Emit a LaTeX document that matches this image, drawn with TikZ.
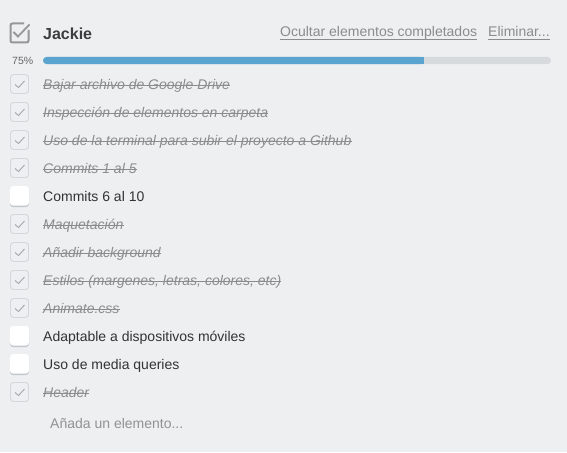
\documentclass[tikz,border=0pt]{standalone}
\usepackage{fontspec}
\setmainfont{Liberation Sans}
\definecolor{bg}{HTML}{EDEFF0}
\definecolor{txt}{HTML}{333333}
\definecolor{muted}{HTML}{8C8C8C}
\definecolor{boxline}{HTML}{D3D7DA}
\definecolor{tick}{HTML}{A3A8AC}
\definecolor{barblue}{HTML}{5BA4CF}
\definecolor{bargray}{HTML}{D6DADC}
\definecolor{shadow}{HTML}{C2C7CB}
\tikzset{
  itemtext/.style={anchor=base west, inner sep=0pt, font=\fontsize{14}{16}\selectfont},
  donetxt/.style={itemtext, text=muted, font=\fontsize{14}{16}\selectfont\itshape},
  todotxt/.style={itemtext, text=txt},
  linktxt/.style={anchor=base west, inner sep=0pt, text=muted, font=\fontsize{14}{16}\selectfont},
  strike/.style={draw=muted, line width=0.9pt},
  uline/.style={draw=muted, line width=0.8pt},
}
\begin{document}
\begin{tikzpicture}[x=1pt,y=-1pt]
\fill[bg] (0,0) rectangle (567,452);
\useasboundingbox (0,0) rectangle (567,452);

% header checkbox
\coordinate (hb) at (19.5,33);
\draw[muted!90, line width=2pt, rounded corners=2pt]
  (24,23.5) -- (10.5,23.5) -- (10.5,42.5) -- (28.5,42.5) -- (28.5,30);
\draw[muted!90, line width=1.8pt] (13.5,32) -- (18,36.5) -- (29.5,24.5);

\node[anchor=base west, inner sep=0pt, text=txt!95, font=\fontsize{16}{18}\selectfont\bfseries] (title) at (43,40) {Jackie};

\node[linktxt] (hide) at (280,37) {Ocultar elementos completados};
\draw[uline] ([yshift=-2pt]hide.base west) -- ([yshift=-2pt]hide.base east);
\node[linktxt] (del) at (488,37) {Eliminar...};
\draw[uline] ([yshift=-2pt]del.base west) -- ([yshift=-2pt]del.base east);

% progress
\node[anchor=base west, inner sep=0pt, text=black!60, font=\fontsize{10.5}{12}\selectfont] (pct) at (12,64) {75\%};
\fill[bargray, rounded corners=3.5pt] (43,57) rectangle (551,64);
\fill[barblue, rounded corners=3.5pt] (43,57) rectangle (424,64);
\fill[barblue] (418,57) rectangle (424,64);

\foreach \i/\t/\d in {
  0/{Bajar archivo de Google Drive}/1,
  1/{Inspección de elementos en carpeta}/1,
  2/{Uso de la terminal para subir el proyecto a Github}/1,
  3/{Commits 1 al 5}/1,
  4/{Commits 6 al 10}/0,
  5/{Maquetación}/1,
  6/{Añadir background}/1,
  7/{Estilos (margenes, letras, colores, etc)}/1,
  8/{Animate.css}/1,
  9/{Adaptable a dispositivos móviles}/0,
  10/{Uso de media queries}/0,
  11/{Header}/1}{
  \pgfmathsetmacro{\cy}{84+28*\i}
  \ifnum\d=1
    \draw[boxline, fill=bg, line width=0.9pt, rounded corners=3pt] (10.5,\cy-9.5) rectangle (28.5,\cy+9.5);
    \draw[tick, line width=0.9pt] (15,\cy+0.5) -- (18.5,\cy+3.5) -- (24.5,\cy-3);
    \node[donetxt] (t\i) at (43,\cy+5) {\t};
    \draw[strike] ([yshift=4pt]t\i.base west) -- ([yshift=4pt]t\i.base east);
  \else
    \fill[shadow, rounded corners=3pt] (10,\cy-9.5) rectangle (29,\cy+11);
    \fill[white, rounded corners=3pt] (10,\cy-10) rectangle (29,\cy+9.5);
    \node[todotxt] (t\i) at (43,\cy+5) {\t};
  \fi
}

\node[anchor=base west, inner sep=0pt, text=muted!95, font=\fontsize{14}{16}\selectfont] (add) at (50,428) {Añada un elemento...};
\end{tikzpicture}
\end{document}
